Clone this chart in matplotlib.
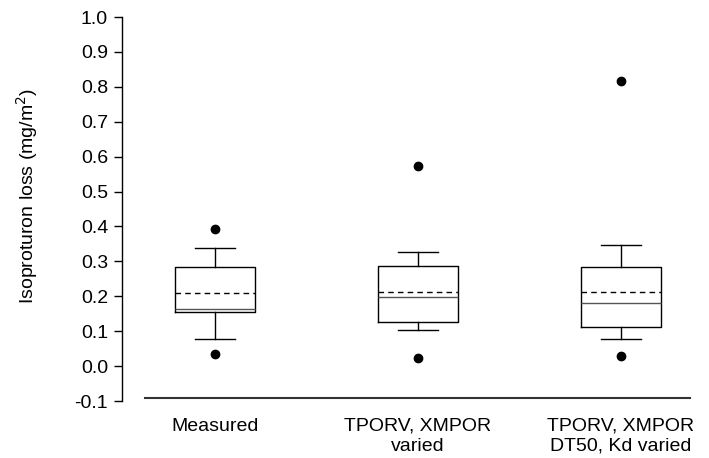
import matplotlib
matplotlib.use("Agg")
import matplotlib.pyplot as plt

categories = ["Measured", "TPORV, XMPOR\nvaried", "TPORV, XMPOR\nDT50, Kd varied"]
q1 = [0.155, 0.125, 0.112]
median = [0.163, 0.199, 0.181]
q3 = [0.285, 0.286, 0.283]
whisker_low = [0.079, 0.102, 0.077]
whisker_high = [0.339, 0.328, 0.348]
mean = [0.209, 0.211, 0.211]
outliers = [[0.034, 0.393], [0.022, 0.573], [0.029, 0.817]]
yticks = [-0.1, 0.0, 0.1, 0.2, 0.3, 0.4, 0.5, 0.6, 0.7, 0.8, 0.9, 1.0]

plt.rcParams['font.family'] = ['Liberation Sans', 'DejaVu Sans']

fig = plt.figure(figsize=(7.09, 4.58), dpi=100)
W, H = 709, 458
ax = fig.add_axes([122 / W, 1 - 401 / H, (690 - 122) / W, (401 - 17) / H])

stats = []
for i in range(len(categories)):
    stats.append(dict(med=median[i], q1=q1[i], q3=q3[i], whislo=whisker_low[i],
                      whishi=whisker_high[i], mean=mean[i], fliers=outliers[i]))

ax.bxp(stats, positions=[1, 2, 3], widths=0.39, showmeans=True, meanline=True,
       showfliers=True,
       boxprops=dict(color='black', linewidth=1.0),
       whiskerprops=dict(color='black', linewidth=1.0),
       capprops=dict(color='black', linewidth=1.0),
       capwidths=0.195,
       medianprops=dict(color='#555555', linewidth=1.0),
       meanprops=dict(color='black', linestyle=(0, (4, 3)), linewidth=1.0),
       flierprops=dict(marker='o', markerfacecolor='black', markeredgecolor='black',
                       markersize=6))

ax.set_xlim(0.542, 3.34)
ax.set_ylim(-0.1, 1.0)
ax.set_yticks(yticks)
ax.set_yticklabels([f"{t:.1f}" for t in yticks], fontsize=14)
ax.set_xticks([1, 2, 3])
ax.set_xticklabels(categories, fontsize=14, linespacing=1.25)
ax.tick_params(axis='x', length=0, pad=12)
ax.tick_params(axis='y', direction='out', length=6, width=1.0, pad=4)
ax.set_ylabel("Isoproturon loss (mg/m$^2$)", fontsize=14)
ax.yaxis.set_label_coords((40 - 122) / (690 - 122), 0.534)

for s in ['top', 'right', 'bottom']:
    ax.spines[s].set_visible(False)
ax.spines['left'].set_linewidth(1.0)
ax.axhline(-0.09, xmin=(145 - 122) / (690 - 122), xmax=1.0, color='#333333',
           linewidth=1.5, clip_on=False)

fig.savefig("out.png", dpi=100)
